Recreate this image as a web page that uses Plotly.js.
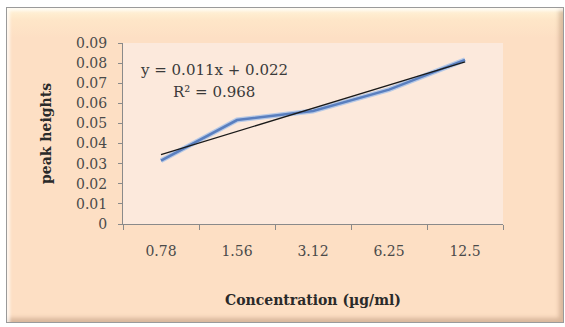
<!DOCTYPE html>
<html>
<head>
<meta charset="utf-8">
<script src="https://cdn.plot.ly/plotly-3.0.1.min.js"></script>
<style>
  html, body { margin: 0; padding: 0; background: #ffffff; width: 565px; height: 327px; overflow: hidden; }
  #frame {
    position: absolute; left: 6px; top: 7px; width: 556px; height: 314px;
    border: 1px solid #9a9a9a;
    background: linear-gradient(to bottom, #fff4d8 0px, #fee6c8 12px, #fddfc4 30px, #fddfc4 100%);
    box-shadow: inset 3px 3px 3px rgba(255,255,255,0.7), inset -4px -4px 4px rgba(150,110,80,0.35);
  }
  #chart { position: absolute; left: 0; top: 0; width: 556px; height: 314px; }
</style>
</head>
<body>
<div id="frame"><div id="chart"></div></div>
<script>
// Data
const categories = ['0.78', '1.56', '3.12', '6.25', '12.5'];
const peakHeights = [0.0315, 0.0517, 0.0562, 0.0668, 0.0816];
const yTickValues = [0, 0.01, 0.02, 0.03, 0.04, 0.05, 0.06, 0.07, 0.08, 0.09];
const yTickLabels = ['0', '0.01', '0.02', '0.03', '0.04', '0.05', '0.06', '0.07', '0.08', '0.09'];
const equationText = 'y = 0.011x + 0.022';
const r2Text = 'R² = 0.968';

// Linear trendline (least squares over category index 1..n)
const n = peakHeights.length;
const xs = peakHeights.map((_, i) => i + 1);
const mx = xs.reduce((a, b) => a + b, 0) / n;
const my = peakHeights.reduce((a, b) => a + b, 0) / n;
let sxy = 0, sxx = 0;
for (let i = 0; i < n; i++) { sxy += (xs[i] - mx) * (peakHeights[i] - my); sxx += (xs[i] - mx) ** 2; }
const slope = sxy / sxx, intercept = my - slope * mx;
const trendY = xs.map(x => intercept + slope * x);

const font = 'DejaVu Serif, Liberation Serif, serif';

const traces = [
  { x: categories, y: peakHeights, type: 'scatter', mode: 'lines',
    line: { color: '#b7c9e6', width: 5 }, hoverinfo: 'skip', showlegend: false },
  { x: categories, y: peakHeights, type: 'scatter', mode: 'lines',
    line: { color: '#5a7fbf', width: 2.5 }, showlegend: false },
  { x: categories, y: trendY, type: 'scatter', mode: 'lines',
    line: { color: '#1a1a1a', width: 1.3 }, showlegend: false }
];

const layout = {
  width: 556, height: 314,
  margin: { l: 116, r: 60, t: 35, b: 98 },
  paper_bgcolor: 'rgba(0,0,0,0)',
  plot_bgcolor: '#fce9dc',
  showlegend: false,
  font: { family: font, color: '#4a4a4a' },
  xaxis: {
    type: 'category',
    range: [-0.5, categories.length - 0.5],
    tickson: 'boundaries',
    ticks: 'outside', ticklen: 5, tickcolor: '#8a8a8a',
    showline: true, linecolor: '#8a8a8a', linewidth: 1,
    showgrid: false, zeroline: false,
    tickfont: { family: font, size: 14, color: '#4a4a4a' },
    ticklabelstandoff: 14,
    title: { text: 'Concentration (µg/ml)', font: { family: font, size: 14, color: '#2a2a2a', weight: 'bold' }, standoff: 37 },
    automargin: false
  },
  yaxis: {
    range: [0, 0.09],
    tickvals: yTickValues, ticktext: yTickLabels,
    ticks: 'outside', ticklen: 4, tickcolor: '#8a8a8a',
    showline: true, linecolor: '#8a8a8a', linewidth: 1,
    showgrid: false, zeroline: false,
    tickfont: { family: font, size: 14, color: '#4a4a4a' },
    ticklabelstandoff: 8,
    title: { text: 'peak heights', font: { family: font, size: 14, color: '#2a2a2a', weight: 'bold' }, standoff: 21 },
    automargin: false
  },
  annotations: [
    { text: equationText, xref: 'paper', yref: 'paper', x: 0.24, y: 0.85, showarrow: false,
      xanchor: 'center', yanchor: 'middle', font: { family: font, size: 15, color: '#3a3a3a' } },
    { text: r2Text, xref: 'paper', yref: 'paper', x: 0.24, y: 0.73, showarrow: false,
      xanchor: 'center', yanchor: 'middle', font: { family: font, size: 15, color: '#3a3a3a' } }
  ]
};

Plotly.newPlot('chart', traces, layout, { displayModeBar: false, staticPlot: true });
</script>
</body>
</html>
